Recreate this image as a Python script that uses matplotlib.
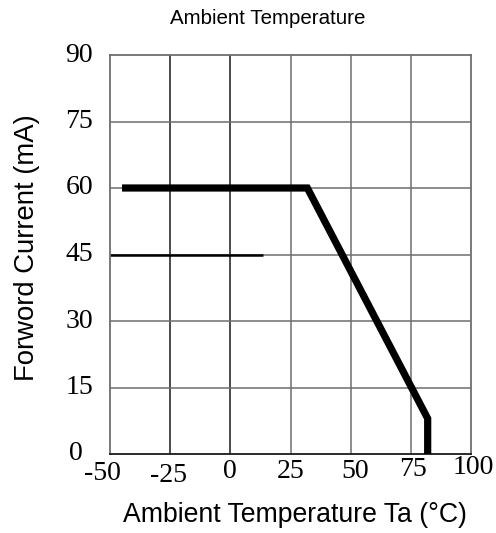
import matplotlib
matplotlib.use("Agg")
import matplotlib.pyplot as plt
import matplotlib.transforms as mtransforms

# Data
temp = [-45, 32, 82, 82]
current = [60, 60, 8, 0]
extra_seg_x = [-50, 13.5]
extra_seg_y = [45, 45]
xticks = [-50, -25, 0, 25, 50, 75, 100]
xtick_labels = ["-50", "-25", "0", "25", "50", "75", "100"]
yticks = [0, 15, 30, 45, 60, 75, 90]
ytick_labels = ["0", "15", "30", "45", "60", "75", "90"]

W, H = 496, 533
fig = plt.figure(figsize=(W / 100, H / 100), dpi=100)
ax = fig.add_axes([110 / W, (H - 454) / H, 361 / W, 399 / H])
ax.set_xlim(-50, 100)
ax.set_ylim(0, 90)

grid_grey = "#6e6e6e"
for xv in xticks[1:-1]:
    c = "#1a1a1a" if xv in (-25, 0) else grid_grey
    ax.axvline(xv, color=c, lw=1.1, zorder=1)
for yv in yticks[1:-1]:
    ax.axhline(yv, color=grid_grey, lw=1.1, zorder=1)

for name, sp in ax.spines.items():
    sp.set_linewidth(1.3)
    sp.set_color("#1a1a1a" if name == "bottom" else grid_grey)

ax.plot(extra_seg_x, extra_seg_y, color="black", lw=1.8, zorder=2, solid_capstyle="butt")
ax.plot(temp, current, color="black", lw=5.2, zorder=3, solid_joinstyle="miter", solid_capstyle="butt")

ax.set_xticks([])
ax.set_yticks([])

serif = "Liberation Serif"
sans = "Liberation Sans"

# x tick labels (staggered as in reference)
x_dx = {-50: -8, -25: -2, 0: 0, 25: 0, 50: 4, 75: 2, 100: 2}
x_dy = {-50: -20, -25: -22, 0: -18, 25: -18, 50: -17, 75: -16, 100: -13}
for v, lab in zip(xticks, xtick_labels):
    tr = mtransforms.blended_transform_factory(ax.transData, ax.transAxes) + \
        mtransforms.ScaledTranslation(x_dx[v] / 100, x_dy[v] / 100, fig.dpi_scale_trans)
    ax.text(v, 0, lab, transform=tr, ha="center", va="center", fontsize=20,
            family=serif, clip_on=False)

# y tick labels
for v, lab in zip(yticks, ytick_labels):
    dx = -27 if v == 0 else -17
    tr = mtransforms.blended_transform_factory(ax.transAxes, ax.transData) + \
        mtransforms.ScaledTranslation(dx / 100, 0, fig.dpi_scale_trans)
    ax.text(0, v, lab, transform=tr, ha="right", va="center", fontsize=20,
            family=serif, clip_on=False)

fig.text(268 / W, 1 - 24 / H, "Ambient Temperature", ha="center", va="baseline",
         fontsize=14.8, family=sans)
fig.text(295 / W, 1 - 515 / H, "Ambient Temperature Ta (°C)", ha="center",
         va="center", fontsize=19.2, family=sans)
fig.text(27 / W, 1 - 248 / H, "Forword Current (mA)", ha="center", va="center",
         rotation=90, fontsize=19.8, family=sans)

fig.savefig("out.png", dpi=100)
